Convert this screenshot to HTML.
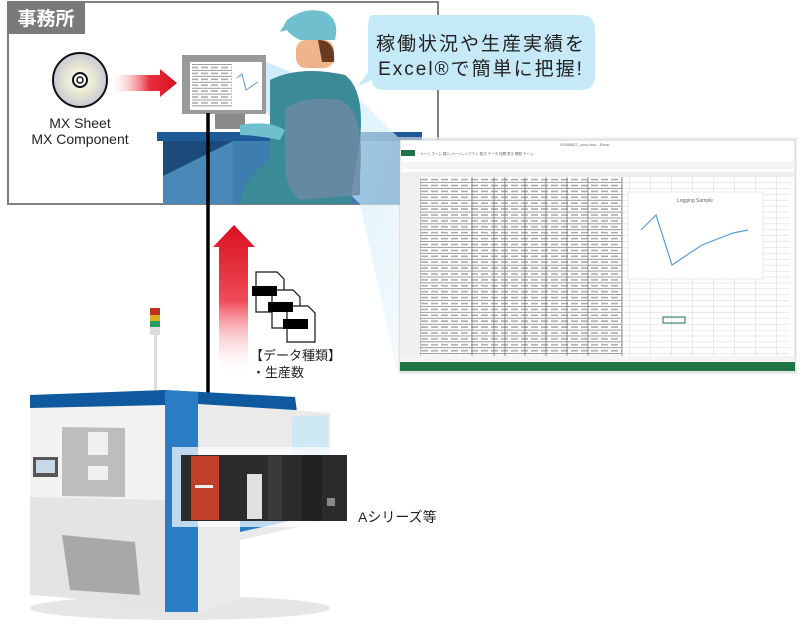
<!DOCTYPE html>
<html><head><meta charset="utf-8"><style>
html,body{margin:0;padding:0;background:#fff}
svg{display:block;font-family:"Liberation Sans","Noto Sans CJK JP",sans-serif}
</style></head><body>
<svg width="809" height="630" viewBox="0 0 809 630" xmlns="http://www.w3.org/2000/svg">
<defs>
<linearGradient id="ra" x1="0" x2="1"><stop offset="0" stop-color="#fff" stop-opacity="0"/><stop offset="0.6" stop-color="#e83040"/><stop offset="1" stop-color="#d8101e"/></linearGradient>
<linearGradient id="ru" x1="0" y1="1" x2="0" y2="0"><stop offset="0" stop-color="#fff" stop-opacity="0"/><stop offset="0.5" stop-color="#ef4a58"/><stop offset="1" stop-color="#d8101e"/></linearGradient>
<radialGradient id="cd"><stop offset="0" stop-color="#fff"/><stop offset="0.5" stop-color="#e8e8d0"/><stop offset="1" stop-color="#c8c8d8"/></radialGradient>
<linearGradient id="beam" x1="0" y1="0" x2="1" y2="1"><stop offset="0" stop-color="#bfe6f7" stop-opacity="0.8"/><stop offset="1" stop-color="#e6f5fc" stop-opacity="0.5"/></linearGradient>
<pattern id="rows" width="10" height="5.9" patternUnits="userSpaceOnUse"><rect width="10" height="5.9" fill="#fff"/><line x1="0" y1="5.6" x2="10" y2="5.6" stroke="#666" stroke-width="0.7"/><rect x="1" y="1.8" width="7" height="1.6" fill="#aaa"/></pattern>
<pattern id="grid" width="21" height="5.9" patternUnits="userSpaceOnUse"><rect width="21" height="5.9" fill="#fff"/><path d="M0 5.6H21M20.5 0V6" stroke="#dcdcdc" stroke-width="0.6"/></pattern>
</defs>

<rect x="8" y="2" width="430" height="202" fill="#fff" stroke="#808080" stroke-width="2"/>
<rect x="7" y="1" width="78" height="33" fill="#7a7a7a"/>
<text x="46" y="25" font-size="19" font-weight="bold" fill="#fff" text-anchor="middle">事務所</text>

<circle cx="80" cy="80" r="27" fill="url(#cd)" stroke="#111" stroke-width="2"/>
<circle cx="80" cy="80" r="7" fill="#fff" stroke="#111" stroke-width="2"/>
<circle cx="80" cy="80" r="3" fill="none" stroke="#111" stroke-width="1.5"/>
<polygon points="108,75 160,75 160,69 177,83 160,97 160,91 108,91" fill="url(#ra)"/>
<text x="80" y="128" font-size="14" fill="#222" text-anchor="middle">MX Sheet</text>
<text x="80" y="144" font-size="14" fill="#222" text-anchor="middle">MX Component</text>

<rect x="157" y="132" width="265" height="9" fill="#1e5b96"/>
<rect x="163" y="141" width="70" height="63" fill="#4a88b8"/>
<polygon points="163,141 233,141 163,176" fill="#1c4a7a"/>
<rect x="233" y="141" width="180" height="63" fill="#3d7db0"/>
<rect x="182" y="55" width="84" height="59" fill="#9a9a9a"/>
<rect x="190" y="62" width="72" height="48" fill="#fff"/>
<rect x="192" y="64" width="40" height="44" fill="url(#rows)"/>
<polyline points="237,78 242,74 246,90 258,82" fill="none" stroke="#5b9bd5"/>
<rect x="215" y="114" width="30" height="15" fill="#8a8a8a"/>
<polygon points="266,62 360,100 398,137 398,375 360,204 266,112" fill="url(#beam)"/>
<path d="M287 20 Q305 6 325 12 Q340 20 335 40 L300 40 Q290 35 287 30 L280 32 Z" fill="#6fbfcf"/>
<rect x="296" y="40" width="38" height="28" rx="10" fill="#f0b48a"/>
<path d="M318 40 Q336 40 334 62 L322 62Z" fill="#6b3a22"/>
<path d="M270 80 Q300 65 345 75 Q365 90 360 140 L350 204 L240 204 Q245 175 270 160 Z" fill="#3a8a98"/>
<path d="M240 125 Q270 120 285 130 L280 140 Q255 135 240 135 Z" fill="#6fbfcf"/>
<path d="M285 110 Q300 95 340 100 Q365 110 360 175 L360 195 L300 200 Q285 190 285 160 Z" fill="#6f88a3" opacity="0.85"/>
<path d="M372 15 H580 Q595 15 595 30 V75 Q595 90 580 90 H385 Q372 90 372 80 L358 86 L368 72 V30 Q368 15 372 15 Z" fill="#c5e9f7"/>
<text x="481" y="50" font-size="19" fill="#222" text-anchor="middle" letter-spacing="2">稼働状況や生産実績を</text>
<text x="481" y="75" font-size="19" fill="#222" text-anchor="middle" letter-spacing="2">Excel®で簡単に把握!</text>

<rect x="398" y="137" width="399" height="237" fill="#e8e8e8" opacity="0.6"/>
<rect x="400" y="140" width="395" height="232" fill="#fff" stroke="#bbb" stroke-width="0.6"/>
<rect x="401" y="150" width="14" height="6" fill="#217346"/>
<text x="560" y="146" font-size="4" fill="#666">20180827_xxxx.xlsx - Excel</text>
<text x="420" y="155" font-size="3.5" fill="#666">ページ ホーム 挿入 ページレイアウト 数式 データ 校閲 表示 開発 チーム</text>
<rect x="400" y="162" width="395" height="7" fill="#f4f4f4"/>
<rect x="400" y="172" width="395" height="5" fill="#eee"/>
<rect x="420" y="177" width="202" height="179" fill="url(#rows)"/>
<rect x="622" y="177" width="168" height="179" fill="url(#grid)"/>
<g stroke="#555" stroke-width="0.6">
<line x1="420" y1="177" x2="420" y2="356"/><line x1="472" y1="177" x2="472" y2="356"/><line x1="494" y1="177" x2="494" y2="356"/><line x1="505" y1="177" x2="505" y2="356"/><line x1="525" y1="177" x2="525" y2="356"/><line x1="546" y1="177" x2="546" y2="356"/><line x1="567" y1="177" x2="567" y2="356"/><line x1="588" y1="177" x2="588" y2="356"/><line x1="622" y1="177" x2="622" y2="356"/>
</g>
<rect x="400" y="177" width="20" height="179" fill="#f0f0f0"/>
<rect x="628" y="192" width="135" height="87" fill="#fff" stroke="#ddd" stroke-width="0.6"/>
<text x="695" y="202" font-size="5" fill="#666" text-anchor="middle">Logging Sample</text>
<polyline points="641,230 656,215 672,265 702,245 733,233 748,230" fill="none" stroke="#5b9bd5" stroke-width="1.2"/>
<rect x="663" y="317" width="22" height="6" fill="none" stroke="#217346"/>
<rect x="400" y="356" width="395" height="6" fill="#f4f4f4"/>
<rect x="400" y="362" width="395" height="9" fill="#217346"/>

<line x1="208" y1="113" x2="208" y2="458" stroke="#000" stroke-width="3.5"/>
<polygon points="219,376 219,247 213,247 234,225 255,247 248,247 248,376" fill="url(#ru)"/>
<g fill="#fff" stroke="#111" stroke-width="1.2">
<path d="M256 272 H277 L284 279 V312 H256 Z"/>
<path d="M272 290 H293 L300 297 V328 H272 Z"/>
<path d="M287 306 H308 L315 313 V342 H287 Z"/>
</g>
<rect x="252" y="286" width="25" height="10" fill="#000"/>
<rect x="268" y="302" width="25" height="10" fill="#000"/>
<rect x="283" y="319" width="25" height="10" fill="#000"/>
<text x="250" y="360" font-size="13" fill="#222">【データ種類】</text>
<text x="252" y="377" font-size="13" fill="#222">・生産数</text>

<rect x="150" y="308" width="10" height="7" fill="#c03020"/>
<rect x="150" y="315" width="10" height="6" fill="#d8b020"/>
<rect x="150" y="321" width="10" height="6" fill="#20a060"/>
<rect x="150" y="327" width="10" height="8" fill="#ddd"/>
<rect x="154" y="335" width="3" height="55" fill="#ddd"/>

<ellipse cx="180" cy="608" rx="150" ry="12" fill="#e6e6e6"/>
<polygon points="30,395 165,390 295,397 297,412 30,408" fill="#0f5a9e"/>
<polygon points="30,408 165,405 165,612 60,597 30,595" fill="#f2f2f2"/>
<polygon points="30,497 165,500 165,612 60,597 30,595" fill="#e4e4e4"/>
<polygon points="165,390 198,392 198,612 175,612 165,612" fill="#2a7cc4"/>
<polygon points="198,404 295,410 330,413 330,520 240,540 240,600 198,612" fill="#eaeaea"/>
<polygon points="240,520 330,500 330,512 240,532" fill="#2a7cc4"/>
<polygon points="292,417 328,415 328,460 292,460" fill="#cfe8f6"/>
<polygon points="62,427 125,428 125,497 62,496" fill="#bdbdbd"/>
<rect x="88" y="432" width="20" height="23" fill="#f0f0f0"/>
<rect x="88" y="466" width="20" height="14" fill="#f0f0f0"/>
<polygon points="62,535 135,542 140,595 70,590" fill="#a8a8a8"/>
<rect x="33" y="457" width="25" height="20" fill="#555"/>
<rect x="36" y="460" width="19" height="13" fill="#c8d8e8"/>
<rect x="172" y="447" width="180" height="80" fill="#fff" opacity="0.7"/>
<rect x="181" y="455" width="166" height="66" fill="#2b2b2b"/>
<rect x="191" y="456" width="28" height="64" fill="#c0402c"/>
<rect x="195" y="485" width="18" height="3" fill="#eee"/>
<rect x="247" y="474" width="15" height="45" fill="#e0e0e0"/>
<rect x="268" y="456" width="14" height="64" fill="#3a3a3a"/>
<rect x="302" y="455" width="20" height="66" fill="#222"/>
<rect x="327" y="498" width="8" height="8" fill="#888"/>
<text x="358" y="522" font-size="14" fill="#222">Aシリーズ等</text>
</svg>
</body></html>
